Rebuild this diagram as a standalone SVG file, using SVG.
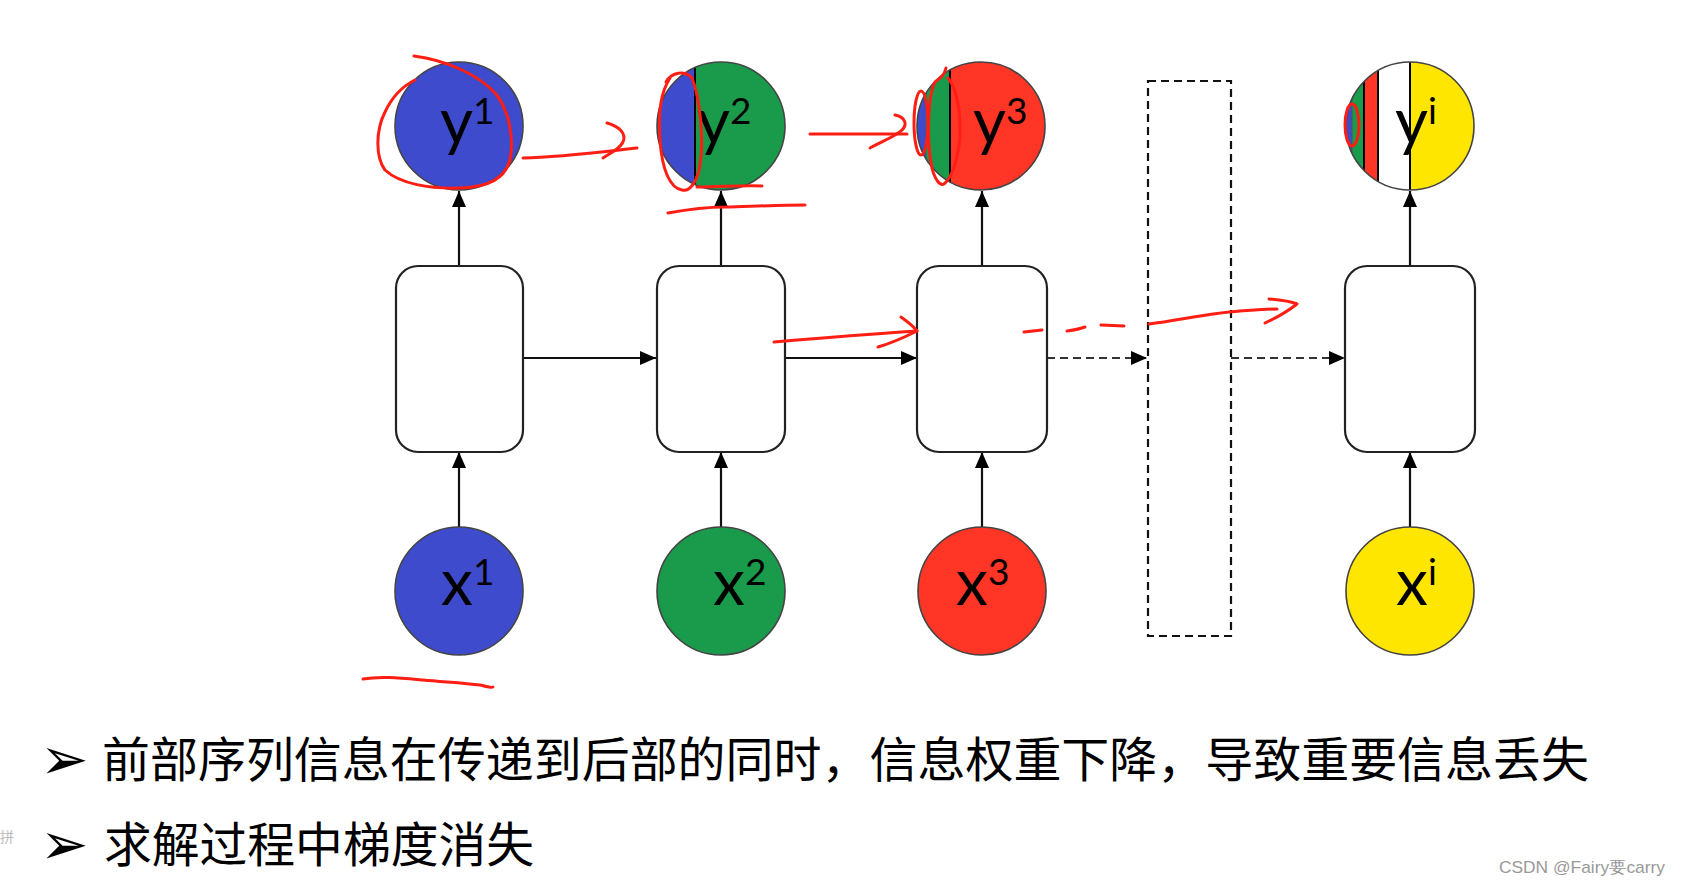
<svg xmlns="http://www.w3.org/2000/svg" width="1681" height="886" viewBox="0 0 1681 886">
<style>
.box{fill:#fff;stroke:#222;stroke-width:2.2}
.circ{fill:none;stroke:#444;stroke-width:1.6}
.lbl{font-family:Lato,"Liberation Sans",sans-serif;font-size:64px;fill:#000}
.sup{font-size:37px}
.conn{stroke:#111;stroke-width:2.2;fill:none}
.dash{stroke:#333;stroke-width:2.2;fill:none;stroke-dasharray:8 5}
.div{stroke:#000;stroke-width:2}
.ann{fill:none;stroke:#FF1E14;stroke-width:3;stroke-linecap:round;stroke-linejoin:round}
.cn{font-family:"Noto Sans CJK SC","Noto Sans",sans-serif;font-size:48px;fill:#000}
.bul{font-family:"DejaVu Sans",sans-serif;font-size:58px;fill:#000}
</style>
<defs>
<marker id="ah" markerWidth="16" markerHeight="14" refX="16" refY="7" orient="auto" markerUnits="userSpaceOnUse"><path d="M0,0 L16,7 L0,14 z" fill="#000"/></marker>
<clipPath id="c2"><circle cx="721" cy="126" r="64"/></clipPath>
<clipPath id="c3"><circle cx="981" cy="126" r="64"/></clipPath>
<clipPath id="ci"><circle cx="1410" cy="126" r="64"/></clipPath>
</defs>
<rect width="1681" height="886" fill="#fff"/>

<g id="connectors">
<line class="conn" x1="459" y1="266" x2="459" y2="191" marker-end="url(#ah)"/>
<line class="conn" x1="721" y1="266" x2="721" y2="191" marker-end="url(#ah)"/>
<line class="conn" x1="982" y1="266" x2="982" y2="191" marker-end="url(#ah)"/>
<line class="conn" x1="1410" y1="266" x2="1410" y2="191" marker-end="url(#ah)"/>
<line class="conn" x1="459" y1="527" x2="459" y2="452" marker-end="url(#ah)"/>
<line class="conn" x1="721" y1="527" x2="721" y2="452" marker-end="url(#ah)"/>
<line class="conn" x1="982" y1="527" x2="982" y2="452" marker-end="url(#ah)"/>
<line class="conn" x1="1410" y1="527" x2="1410" y2="452" marker-end="url(#ah)"/>
<line class="conn" x1="523" y1="358" x2="656" y2="358" marker-end="url(#ah)"/>
<line class="conn" x1="785" y1="358" x2="917" y2="358" marker-end="url(#ah)"/>
<line class="dash" x1="1047" y1="358" x2="1147" y2="358" marker-end="url(#ah)"/>
<line class="dash" x1="1231" y1="358" x2="1345" y2="358" marker-end="url(#ah)"/>
</g>

<g id="ellipsis-box"><rect x="1148" y="81" width="83" height="555" fill="none" stroke="#111" stroke-width="2.2" stroke-dasharray="8 5"/></g>

<g id="h1"><rect class="box" x="396" y="266" width="127" height="186" rx="22"/></g>
<g id="h2"><rect class="box" x="657" y="266" width="128" height="186" rx="22"/></g>
<g id="h3"><rect class="box" x="917" y="266" width="130" height="186" rx="22"/></g>
<g id="hi"><rect class="box" x="1345" y="266" width="130" height="186" rx="22"/></g>

<g id="y1"><circle cx="459" cy="126" r="64" fill="#3F4BCD"/><circle class="circ" cx="459" cy="126" r="64"/>
<text class="lbl" x="440" y="144">y<tspan class="sup" dy="-20">1</tspan></text></g>
<g id="y2"><g clip-path="url(#c2)"><rect x="650" y="60" width="45" height="140" fill="#3F4BCD"/><rect x="695" y="60" width="100" height="140" fill="#1A9A4B"/><line class="div" x1="695" y1="60" x2="695" y2="200"/></g><circle class="circ" cx="721" cy="126" r="64"/>
<text class="lbl" x="697" y="144">y<tspan class="sup" dy="-20">2</tspan></text></g>
<g id="y3"><g clip-path="url(#c3)"><rect x="910" y="60" width="16" height="140" fill="#3F4BCD"/><rect x="926" y="60" width="24" height="140" fill="#1A9A4B"/><rect x="950" y="60" width="100" height="140" fill="#FF3526"/><line x1="926" y1="60" x2="926" y2="200" stroke="#555" stroke-width="1"/><line class="div" x1="950" y1="60" x2="950" y2="200"/></g><circle class="circ" cx="981" cy="126" r="64"/>
<text class="lbl" x="973" y="144">y<tspan class="sup" dy="-20">3</tspan></text></g>
<g id="yi"><g clip-path="url(#ci)"><rect x="1340" y="60" width="12" height="140" fill="#3F4BCD"/><rect x="1352" y="60" width="12" height="140" fill="#1A9A4B"/><rect x="1364" y="60" width="14" height="140" fill="#FF3526"/><rect x="1378" y="60" width="32" height="140" fill="#fff"/><rect x="1410" y="60" width="70" height="140" fill="#FFE600"/><line x1="1352" y1="60" x2="1352" y2="200" stroke="#555" stroke-width="1"/><line class="div" x1="1364" y1="60" x2="1364" y2="200"/><line class="div" x1="1378" y1="60" x2="1378" y2="200"/><line class="div" x1="1410" y1="60" x2="1410" y2="200"/></g><circle class="circ" cx="1410" cy="126" r="64"/>
<text class="lbl" x="1395" y="144">y<tspan class="sup" dy="-20">i</tspan></text></g>

<g id="x1"><circle cx="459" cy="591" r="64" fill="#3F4BCD"/><circle class="circ" cx="459" cy="591" r="64"/>
<text class="lbl" x="441" y="605">x<tspan class="sup" dy="-20">1</tspan></text></g>
<g id="x2"><circle cx="721" cy="591" r="64" fill="#1A9A4B"/><circle class="circ" cx="721" cy="591" r="64"/>
<text class="lbl" x="713" y="605">x<tspan class="sup" dy="-20">2</tspan></text></g>
<g id="x3"><circle cx="982" cy="591" r="64" fill="#FF3526"/><circle class="circ" cx="982" cy="591" r="64"/>
<text class="lbl" x="956" y="605">x<tspan class="sup" dy="-20">3</tspan></text></g>
<g id="xi"><circle cx="1410" cy="591" r="64" fill="#FFE600"/><circle class="circ" cx="1410" cy="591" r="64"/>
<text class="lbl" x="1396" y="605">x<tspan class="sup" dy="-20">i</tspan></text></g>

<g id="annotations">
<path class="ann" d="M414,56 C445,60 478,74 496,94 C510,112 514,140 510,160 C505,178 490,187 460,188 C430,189 400,184 385,170 C376,158 375,132 385,112 C392,97 403,86 415,80"/>
<path class="ann" d="M523,158 C560,157 600,152 637,148"/>
<path class="ann" d="M607,123 C618,126 627,133 623,142 C619,150 610,153 603,158"/>
<path class="ann" d="M666,82 C672,72 684,70 692,78 C700,98 704,140 700,165 C697,182 690,192 682,190 C670,188 662,170 660,140 C658,110 661,92 670,78"/>
<path class="ann" d="M697,187 C720,187 745,185 762,186"/>
<path class="ann" d="M668,213 C690,209 705,207 725,207 C760,206 785,205 805,205"/>
<path class="ann" d="M810,134 L907,134"/>
<path class="ann" d="M895,115 C905,117 908,124 902,130 C895,137 880,142 870,148"/>
<ellipse class="ann" cx="921" cy="123" rx="7" ry="32"/>
<path class="ann" d="M946,68 C944,76 940,78 935,82 C928,95 926,140 932,168 C935,180 940,186 944,184 C952,178 960,155 960,130 C960,105 956,88 948,78"/>
<path class="ann" stroke-width="4.5" d="M774,342 C820,338 870,334 917,331"/>
<path class="ann" stroke-width="3.5" d="M901,317 C908,322 914,327 917,331 C905,337 892,343 878,347"/>
<path class="ann" d="M1024,332 L1042,330 M1067,331 C1074,330 1080,329 1085,327 M1101,325 L1124,326"/>
<path class="ann" d="M1149,324 C1180,320 1210,313 1240,311 C1255,310 1268,309 1277,309"/>
<path class="ann" d="M1269,299 C1280,300 1290,301 1297,304 C1288,311 1276,318 1265,323"/>
<ellipse class="ann" cx="1352" cy="125" rx="7" ry="21"/>
<path class="ann" stroke-width="4.5" d="M363,679 C380,676 400,678 423,680 C445,682 465,683 480,685 C488,687 492,688 493,687"/>
</g>

<g id="text">
<text class="bul" x="40" y="779">➢</text>
<text class="cn" x="102" y="777" textLength="1487" lengthAdjust="spacingAndGlyphs">前部序列信息在传递到后部的同时，信息权重下降，导致重要信息丢失</text>
<text class="bul" x="40" y="864">➢</text>
<text class="cn" x="104" y="862" textLength="430" lengthAdjust="spacingAndGlyphs">求解过程中梯度消失</text>
<text x="0" y="842" font-family="Noto Sans CJK SC,sans-serif" font-size="14" fill="#bbb">拼</text>
<text x="1499" y="873" font-family="Liberation Sans,sans-serif" font-size="17" fill="#999" textLength="166" lengthAdjust="spacingAndGlyphs">CSDN @Fairy要carry</text>
</g>
</svg>
